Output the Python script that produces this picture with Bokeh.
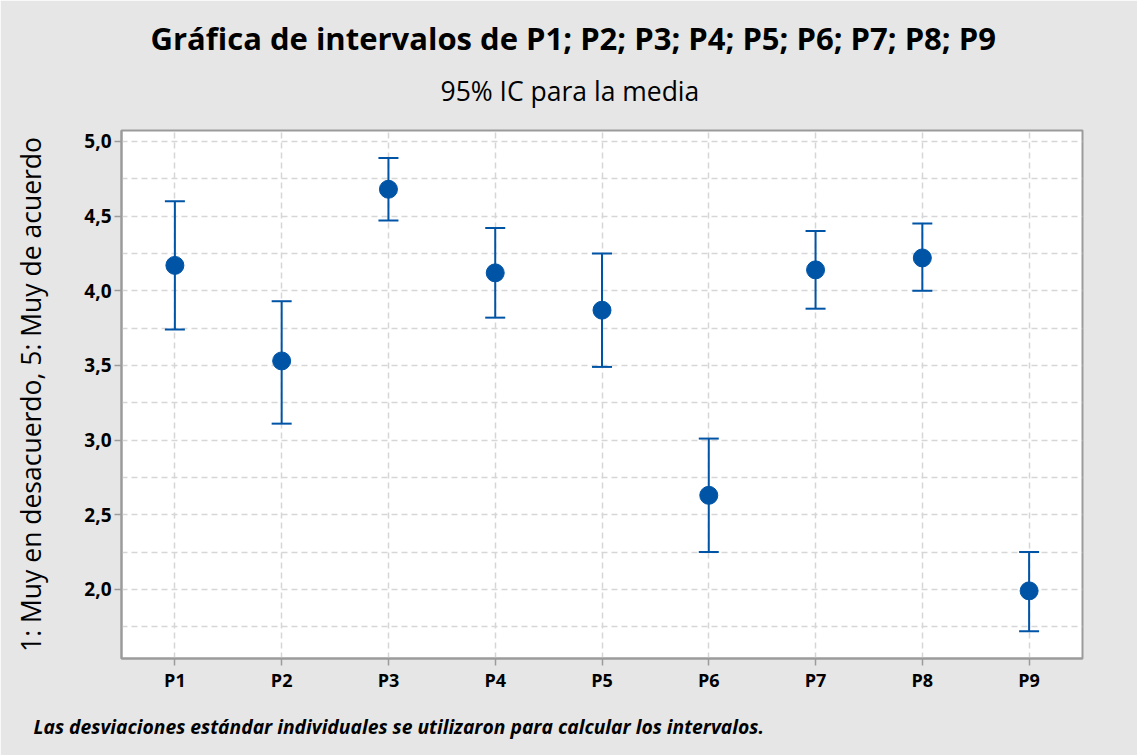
from bokeh.plotting import figure
from bokeh.models import (ColumnDataSource, FactorRange, Range1d, Whisker, TeeHead,
                          Title, FixedTicker, CustomJSTickFormatter)
from bokeh.embed import file_html
from bokeh.resources import INLINE

# ---- data ----
categories = ["P1", "P2", "P3", "P4", "P5", "P6", "P7", "P8", "P9"]
means = [4.17, 3.53, 4.68, 4.12, 3.87, 2.63, 4.14, 4.22, 1.99]
upper = [4.60, 3.93, 4.89, 4.42, 4.25, 3.01, 4.40, 4.45, 2.25]
lower = [3.74, 3.11, 4.47, 3.82, 3.49, 2.25, 3.88, 4.00, 1.72]
y_ticks = [2.0, 2.5, 3.0, 3.5, 4.0, 4.5, 5.0]
y_minor = [1.75, 2.25, 2.75, 3.25, 3.75, 4.25, 4.75]

title_text = "Gráfica de intervalos de P1; P2; P3; P4; P5; P6; P7; P8; P9"
subtitle_text = "95% IC para la media"
ylabel_text = "1: Muy en desacuerdo, 5: Muy de acuerdo"
footer_text = "Las desviaciones estándar individuales se utilizaron para calcular los intervalos."

FONT = "Open Sans"
BG = "#E6E6E6"
FRAME = "#9B9B9B"
BLUE = "#0054A6"
GRID = "#D6D6D6"

src = ColumnDataSource(dict(x=categories, mean=means, upper=upper, lower=lower))

y0, y1 = 1.537, 5.0735
p = figure(x_range=FactorRange(*categories, range_padding=0),
           y_range=Range1d(y0, y1),
           width=1137, height=755,
           output_backend="svg", toolbar_location=None,
           min_border_left=121, min_border_right=55,
           min_border_top=130, min_border_bottom=96,
           background_fill_color="white", border_fill_color=BG)
p.title = None
p.outline_line_color = FRAME
p.outline_line_width = 2

# grid
for g in (p.xgrid, p.ygrid):
    g.grid_line_color = GRID
    g.grid_line_width = 1.5
    g.grid_line_dash = "6 4"
p.ygrid.minor_grid_line_color = GRID
p.ygrid.minor_grid_line_width = 1.5
p.ygrid.minor_grid_line_dash = "6 4"

# axes
p.yaxis.ticker = FixedTicker(ticks=y_ticks, minor_ticks=y_minor)
p.yaxis.formatter = CustomJSTickFormatter(code="return tick.toFixed(1).replace('.', ',');")
for ax in (p.xaxis, p.yaxis):
    ax.axis_line_color = FRAME
    ax.axis_line_width = 2
    ax.major_tick_line_color = FRAME
    ax.major_tick_line_width = 1.5
    ax.major_tick_out = 7
    ax.major_tick_in = 0
    ax.minor_tick_line_color = None
    ax.major_label_text_font = FONT
    ax.major_label_text_font_style = "bold"
    ax.major_label_text_color = "black"
p.xaxis.major_label_text_font_size = "18px"
p.yaxis.major_label_text_font_size = "19px"
p.xaxis.major_label_standoff = 2
p.yaxis.major_label_standoff = 3
p.yaxis.axis_label = ylabel_text
p.yaxis.axis_label_text_font = FONT
p.yaxis.axis_label_text_font_style = "normal"
p.yaxis.axis_label_text_font_size = "26.5px"
p.yaxis.axis_label_text_color = "black"
p.yaxis.axis_label_standoff = 32

# error bars and means
w = Whisker(base="x", upper="upper", lower="lower", source=src,
            line_color=BLUE, line_width=2,
            upper_head=TeeHead(size=20, line_color=BLUE, line_width=2),
            lower_head=TeeHead(size=20, line_color=BLUE, line_width=2))
p.add_layout(w)
p.scatter(x="x", y="mean", source=src, size=18, color=BLUE)

# titles / footer
p.add_layout(Title(text=subtitle_text, align="left", offset=319, standoff=43,
                   text_font=FONT, text_font_style="normal", text_font_size="26.5px",
                   text_line_height=0.4, text_color="black"), "above")
p.add_layout(Title(text=title_text, align="left", offset=29, standoff=-19,
                   text_font=FONT, text_font_style="bold", text_font_size="31px",
                   text_line_height=0.8, text_color="black"), "above")
p.add_layout(Title(text=footer_text, align="left", offset=-88, standoff=32,
                   text_font=FONT, text_font_style="bold italic", text_font_size="19.3px",
                   text_color="black"), "below")

open("out.html", "w").write(file_html(p, INLINE))
